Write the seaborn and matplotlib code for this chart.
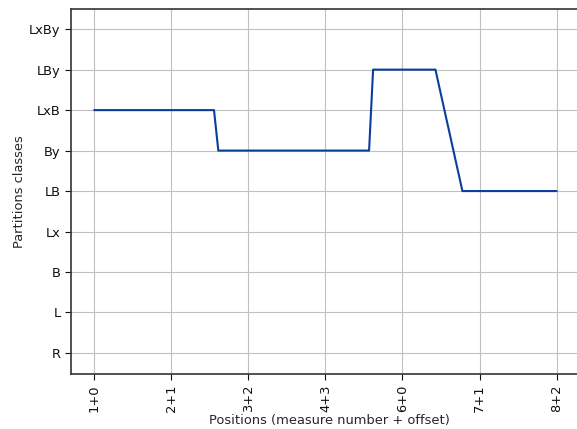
import matplotlib
matplotlib.use("Agg")
import matplotlib.pyplot as plt
import seaborn as sns
import pandas as pd

# Partition classes, ordered bottom to top on the y axis
classes = ["R", "L", "B", "Lx", "LB", "By", "LxB", "LBy", "LxBy"]

# Tick labels for positions (measure number + offset)
position_labels = ["1+0", "2+1", "3+2", "4+3", "6+0", "7+1", "8+2"]

# Trajectory of the partition class along the positions
pos = [0.0, 1.555, 1.611, 3.567, 3.619, 4.428, 4.778, 6.0]
cls = ["LxB", "LxB", "By", "By", "LBy", "LBy", "LB", "LB"]

df = pd.DataFrame({"pos": pos, "level": [classes.index(c) for c in cls]})

sns.set_style("ticks")
plt.rcParams["font.family"] = ["DejaVu Sans"]

fig = plt.figure(figsize=(5.77, 4.29), dpi=100)
ax = fig.add_axes([0.1231, 0.1282, 0.895, 0.851])

sns.lineplot(data=df, x="pos", y="level", ax=ax, color="#0a3d9c",
             linewidth=1.5, sort=False, estimator=None)

fs = 9.4
ax.set_xlim(-0.3, 6.4)
ax.set_ylim(-0.52, 8.5)
ax.set_xticks(range(len(position_labels)))
ax.set_xticklabels(position_labels, rotation=90, fontsize=fs)
ax.set_yticks(range(len(classes)))
ax.set_yticklabels(classes, fontsize=fs)
ax.grid(True, color="#c0c0c0", linewidth=0.8)
ax.set_axisbelow(True)
ax.set_xlabel("Positions (measure number + offset)", fontsize=fs, labelpad=1.5)
ax.set_ylabel("Partitions classes", fontsize=fs, labelpad=2.5)
for s in ax.spines.values():
    s.set_color("#333333")
    s.set_linewidth(1.2)
ax.tick_params(colors="#111111", length=4)

fig.savefig("out.png", dpi=100)
